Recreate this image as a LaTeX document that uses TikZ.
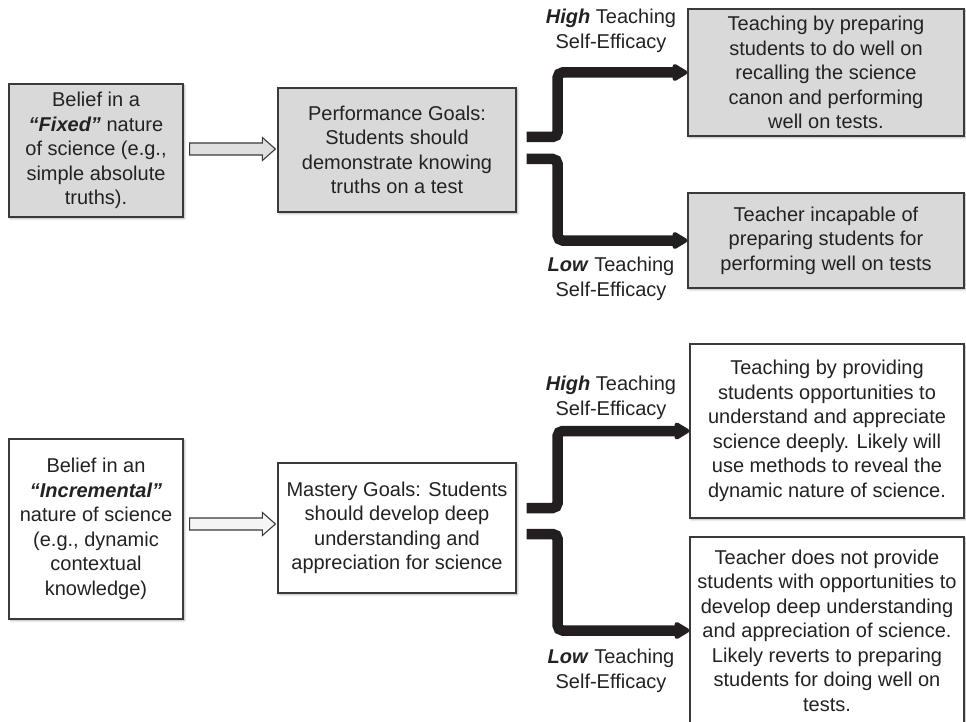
\documentclass[tikz,border=0pt]{standalone}
\usepackage{fontspec}
\setmainfont{Liberation Sans}
\usetikzlibrary{arrows.meta,calc,shadows.blur}

\definecolor{boxgray}{HTML}{D9D9D9}
\definecolor{boxline}{HTML}{3A3A3A}
\definecolor{inkgray}{HTML}{222222}
\definecolor{flowblack}{HTML}{231F20}

% hollow block arrow between two boxes: source, target, vertical offset, fill
\newcommand\hollowarrow[4]{%
  \draw[hollow, fill=#4]
    ($(#1.east |- #2.west)+(6,#3-6)$) -- ($(#2.west)+(-15,#3-6)$)
    -- ($(#2.west)+(-15,#3-11.5)$) -- ($(#2.west)+(-2,#3)$)
    -- ($(#2.west)+(-15,#3+11.5)$) -- ($(#2.west)+(-15,#3+6)$)
    -- ($(#1.east |- #2.west)+(6,#3+6)$) -- cycle;}

\begin{document}
\begin{tikzpicture}[x=1pt,y=-1pt,
  txt/.style={font=\fontsize{20}{24.5}\selectfont, align=center, inner sep=0pt, text=inkgray},
  box/.style={txt, draw=boxline, line width=1.2pt,
    blur shadow={shadow xshift=1.5pt, shadow yshift=-1.5pt, shadow blur radius=2pt, shadow opacity=35}},
  gbox/.style={box, fill=boxgray},
  wbox/.style={box, fill=white},
  hollow/.style={draw=boxline, line width=1.1pt, line join=miter},
  flow/.style={draw=flowblack, line width=10.5pt, rounded corners=5pt,
    -{Triangle[length=17pt,width=19pt,round=false]}},
  lbl/.style={txt}
]
\useasboundingbox (0,0) rectangle (966,722);

% ---- fixed view of science ----
\node[gbox, minimum width=174, minimum height=133] (A1) at (96,150.5)
  {Belief in a\\ \textbf{\textit{“Fixed”}} nature\\ of science (e.g.,\\ simple absolute\\ truths).};
\node[gbox, minimum width=238, minimum height=124] (A2) at (397,150)
  {Performance Goals:\\ Students should\\ demonstrate knowing\\ truths on a test};
\node[gbox, minimum width=276, minimum height=127] (A3) at (826,72.5)
  {Teaching by preparing\\ students to do well on\\ recalling the science\\ canon and performing\\ well on tests.};
\node[gbox, minimum width=276, minimum height=95] (A4) at (826,240.5)
  {Teacher incapable of\\ preparing students for\\ performing well on tests};

\hollowarrow{A1}{A2}{-1}{boxgray!85}
\draw[flow] ($(A2.east)+(10,-13)$) -- ++(31,0) |- (A3.west);
\draw[flow] ($(A2.east)+(10,9)$) -- ++(31,0) |- (A4.west);
\node[lbl] (A3l) at (611,31) {\textbf{\textit{High}} Teaching\\ Self-Efficacy};
\node[lbl] (A4l) at (611,279) {\textbf{\textit{Low}} Teaching\\ Self-Efficacy};

% ---- incremental view of science ----
\node[wbox, minimum width=174, minimum height=180] (B1) at (96,529)
  {Belief in an\\ \textbf{\textit{“Incremental”}}\\ nature of science\\ (e.g., dynamic\\ contextual\\ knowledge)};
\node[wbox, minimum width=238, minimum height=130] (B2) at (397,528)
  {Mastery Goals: Students\\ should develop deep\\ understanding and\\ appreciation for science};
\node[wbox, minimum width=274, minimum height=174] (B3) at (827,431)
  {Teaching by providing\\ students opportunities to\\ understand and appreciate\\ science deeply. Likely will\\ use methods to reveal the\\ dynamic nature of science.};
\node[wbox, minimum width=274, minimum height=187] (B4) at (827,630.5)
  {Teacher does not provide\\ students with opportunities to\\ develop deep understanding\\ and appreciation of science.\\ Likely reverts to preparing\\ students for doing well on\\ tests.};

\hollowarrow{B1}{B2}{-4}{gray!8}
\draw[flow] ($(B2.east)+(10,-20)$) -- ++(31,0) |- (B3.west);
\draw[flow] ($(B2.east)+(10,6)$) -- ++(31,0) |- (B4.west);
\node[lbl] (B3l) at (611,398) {\textbf{\textit{High}} Teaching\\ Self-Efficacy};
\node[lbl] (B4l) at (611,671) {\textbf{\textit{Low}} Teaching\\ Self-Efficacy};
\end{tikzpicture}
\end{document}
